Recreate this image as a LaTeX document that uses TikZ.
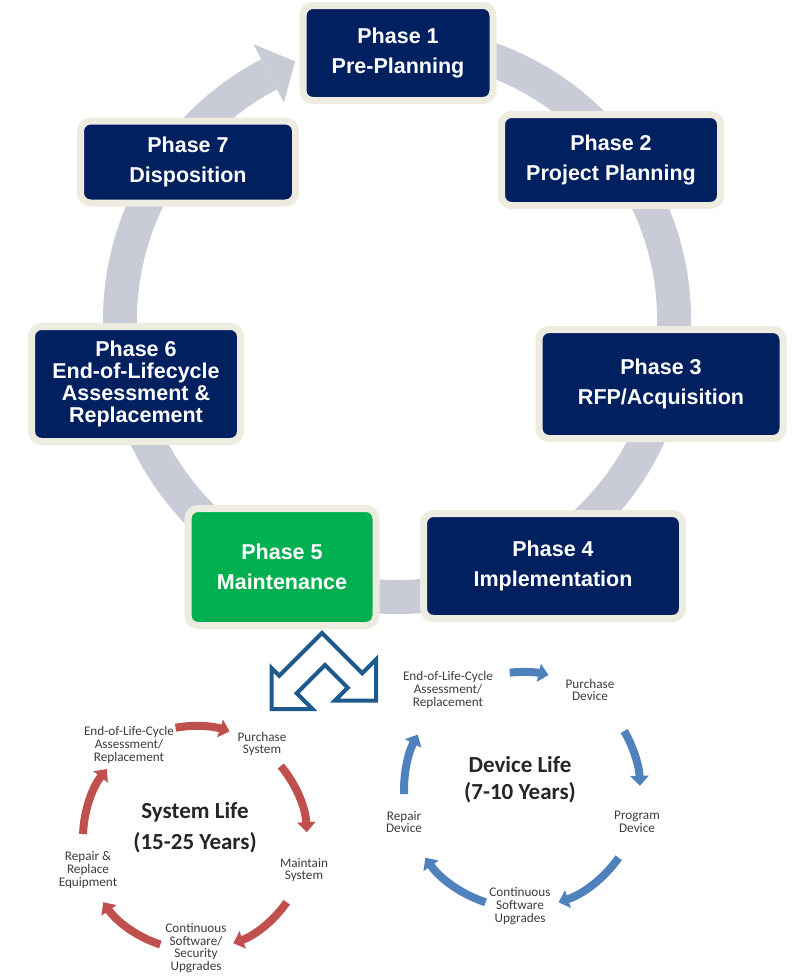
\documentclass[tikz,border=0pt]{standalone}
\usepackage{fontspec}
\setmainfont{Liberation Sans}
\newfontfamily\calfont{Carlito}
\usepackage{tikz}
\usetikzlibrary{calc,shadows,arrows.meta}

\definecolor{navy}{RGB}{0,32,96}
\definecolor{phgreen}{RGB}{0,176,80}
\definecolor{cream}{RGB}{238,236,225}
\definecolor{ringgray}{RGB}{201,204,214}
\definecolor{sysred}{RGB}{192,80,77}
\definecolor{devblue}{RGB}{79,129,189}
\definecolor{chevblue}{RGB}{31,90,140}
\definecolor{lblgray}{RGB}{60,60,60}

\begin{document}
\begin{tikzpicture}[x=1pt,y=-1pt,
		phase/.style={draw=cream,line width=7pt,fill=navy,rounded corners=10pt,text=white,
			font=\fontsize{21.5}{30}\selectfont\bfseries,align=center,inner sep=0pt,
			drop shadow={shadow xshift=1pt,shadow yshift=-2.5pt,opacity=.3}},
		cyclbl/.style={font=\calfont\fontsize{13.2}{12.7}\selectfont,text=lblgray,align=center,inner sep=0pt},
		lifettl/.style={font=\calfont\bfseries\fontsize{23}{31}\selectfont,text=black!85,align=center,inner sep=0pt},
		sysarr/.style={sysred,line width=8pt,-{Triangle[width=18pt,length=10pt]}},
		devarr/.style={devblue,line width=8pt,-{Triangle[width=18pt,length=10pt]}}]
				\useasboundingbox (0,0) rectangle (793,977);
				% big ring
				\coordinate (c) at (397,320);
				\draw[ringgray,line width=34pt] ($(c)+(-80:277)$) arc[start angle=-80,end angle=242.5,radius=277];
				\fill[ringgray] ($(c)+(242.5:311)$) -- ($(c)+(248.5:278)$) -- ($(c)+(242.5:245)$) -- cycle;
				% phases
				\node[phase,minimum width=190pt,minimum height=95pt] (P_1) at (398,53) {Phase 1\\Pre-Planning};
				\node[phase,minimum width=219pt,minimum height=91pt] (P_2) at (611,160) {Phase 2\\Project Planning};
				\node[phase,minimum width=244pt,minimum height=109pt] (P_3) at (661,384) {Phase 3\\RFP/Acquisition};
				\node[phase,minimum width=259pt,minimum height=105pt] (P_4) at (553,566) {Phase 4\\Implementation};
				\node[phase,fill=phgreen,minimum width=188pt,minimum height=117pt] (P_5) at (282,567) {Phase 5\\Maintenance};
				\node[phase,font=\fontsize{21.5}{22}\selectfont\bfseries,minimum width=209pt,minimum height=115pt] (P_6) at (136,384) {Phase 6\\End-of-Lifecycle\\Assessment \&\\Replacement};
				\node[phase,minimum width=215pt,minimum height=82pt] (P_7) at (188,162) {Phase 7\\Disposition};
				% double arrow
				\draw[chevblue,line width=4pt,fill=white,line join=miter] (322,633) -- (362.25,673.25) -- (376,659.5) -- (376,700.5) -- (335,700.5) -- (347.75,687.75) -- (325,665) -- (296.75,693.25) -- (312.5,709) -- (271.5,709) -- (271.5,668) -- (279.25,675.75) -- cycle;
				% system life
				\coordinate (sc) at (195,838);
				\foreach \a/\b in {-100/-72,-40/-3,35/70,108/145,-178/-142}
					\draw[sysarr] ($(sc)+(\a:112)$) arc[start angle=\a,end angle=\b,radius=112];
				\node[lifettl] (S_t) at (195,828) {System Life\\(15-25 Years)};
				\node[cyclbl] (S_1) at (129,745) {End-of-Life-Cycle\\Assessment/\\Replacement};
				\node[cyclbl] (S_2) at (262,744) {Purchase\\System};
				\node[cyclbl] (S_3) at (304,870) {Maintain\\System};
				\node[cyclbl] (S_4) at (196,948) {Continuous\\Software/\\Security\\Upgrades};
				\node[cyclbl] (S_5) at (88,870) {Repair \&\\Replace\\Equipment};
				% device life
				\coordinate (dc) at (522,790);
				\foreach \a/\b in {-96/-77,-30/-2,35/72,108/145,-182/-152}
					\draw[devarr] ($(dc)+(\a:118)$) arc[start angle=\a,end angle=\b,radius=118];
				\node[lifettl,font=\calfont\bfseries\fontsize{23}{27}\selectfont] (D_t) at (520,780) {Device Life\\(7-10 Years)};
				\node[cyclbl] (D_1) at (448,690) {End-of-Life-Cycle\\Assessment/\\Replacement};
				\node[cyclbl] (D_2) at (590,690) {Purchase\\Device};
				\node[cyclbl] (D_3) at (637,822) {Program\\Device};
				\node[cyclbl] (D_4) at (520,906) {Continuous\\Software\\Upgrades};
				\node[cyclbl] (D_5) at (404,822) {Repair\\Device};
\end{tikzpicture}
\end{document}
